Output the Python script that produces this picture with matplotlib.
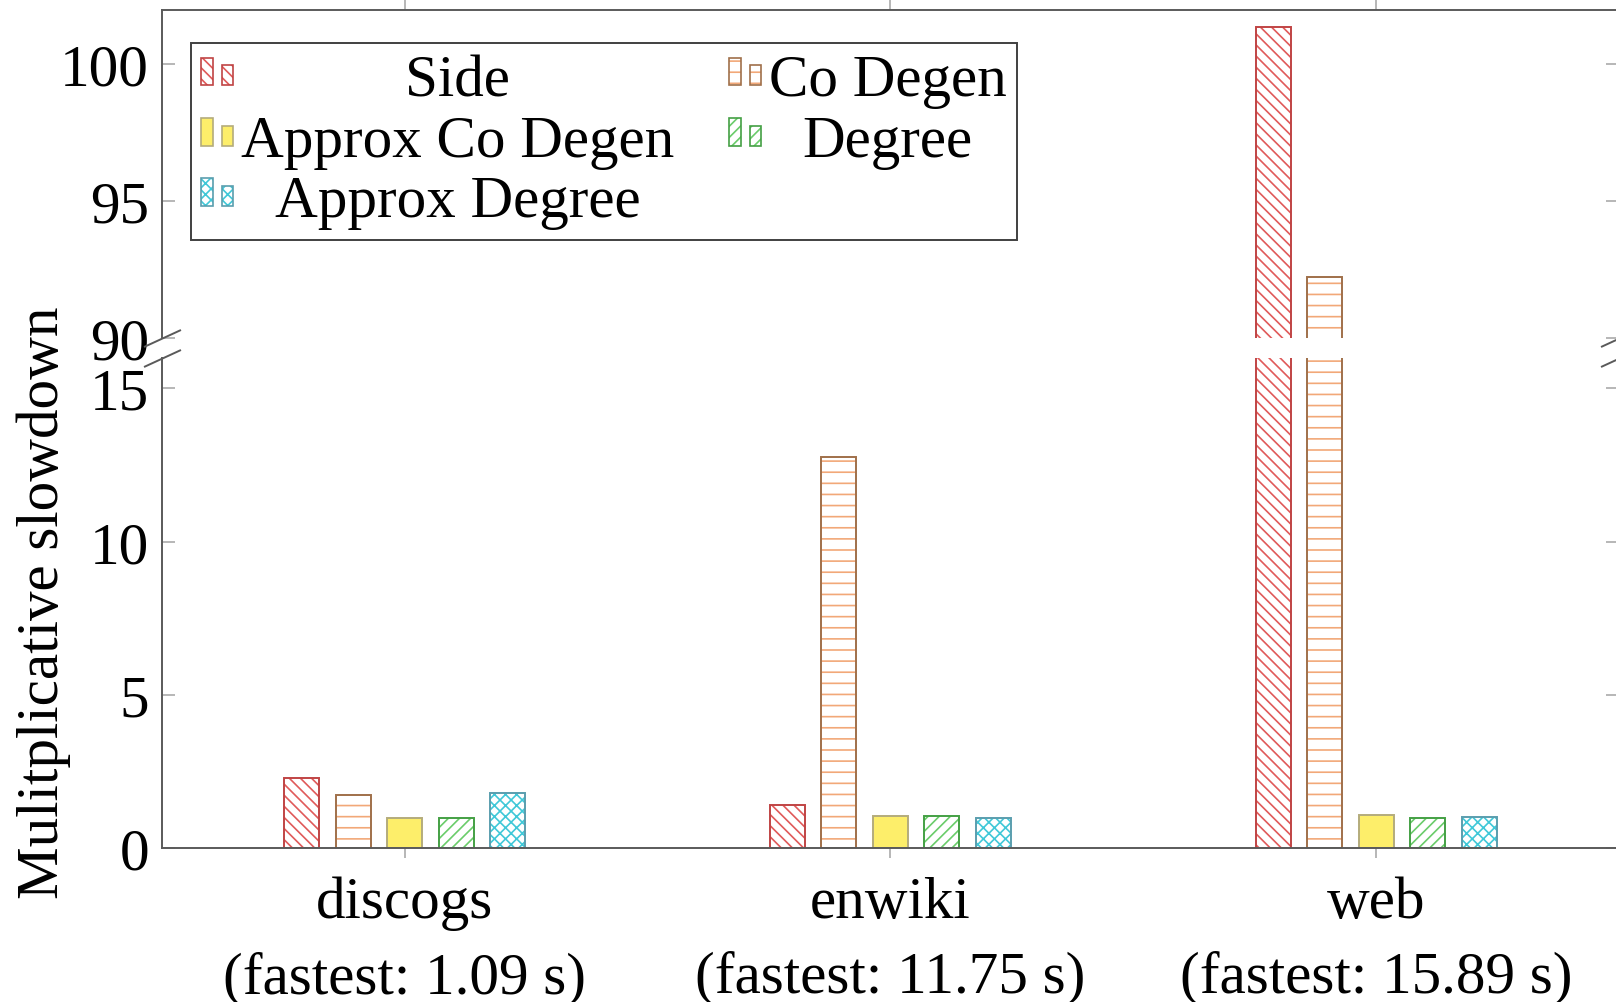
import matplotlib
matplotlib.use('Agg')
import matplotlib.pyplot as plt
import numpy as np
from matplotlib.patches import Rectangle
from matplotlib.legend_handler import HandlerBase

FS = 21.3
plt.rcParams['font.family'] = ['Liberation Serif', 'DejaVu Serif']
plt.rcParams['font.size'] = FS
plt.rcParams['hatch.linewidth'] = 0.6

# data (slowdown relative to fastest method per dataset)
datasets = ['discogs', 'enwiki', 'web']
fastest_s = [1.09, 11.75, 15.89]
side = [2.29, 1.42, 101.36]
co_degen = [1.74, 12.75, 92.22]
approx_co_degen = [1.00, 1.07, 1.09]
degree = [1.00, 1.05, 1.00]
approx_degree = [1.81, 0.99, 1.01]

names = ['Side', 'Co Degen', 'Approx Co Degen', 'Degree', 'Approx Degree']
values = [side, co_degen, approx_co_degen, degree, approx_degree]

# styles: fill, hatch colour, outline colour, hatch
fills = ['white', 'white', '#fdee6a', 'white', 'white']
hatch_cols = ['#e05a5a', '#f2a878', '#fdee6a', '#6acc6a', '#40c8d8']
edge_cols = ['#c04444', '#a0704a', '#b4ac7c', '#44a044', '#5a9eae']
hatches = ['\\' * 6, '-' * 3, None, '/' * 6, 'x' * 6]

spine_col = '#5a5a5a'
tick_col = '#aaaaaa'

fig = plt.figure(figsize=(8.08, 5.015), dpi=200)
ax_top = fig.add_axes([0.1001, 0.662, 0.9017, 0.3275])
ax_bot = fig.add_axes([0.1001, 0.1532, 0.9017, 0.4892])

x = np.arange(len(datasets))
width = 0.072
step = 0.106

for ax in (ax_top, ax_bot):
    for i in range(len(names)):
        off = (i - 2) * step
        ax.bar(x + off, values[i], width, color=fills[i], edgecolor=hatch_cols[i],
               linewidth=0, hatch=hatches[i])
        ax.bar(x + off, values[i], width, fill=False, edgecolor=edge_cols[i], linewidth=0.7)
    ax.set_xlim(-0.5, 2.5)
    ax.set_xticks(x)
    for s in ax.spines.values():
        s.set_color(spine_col)
        s.set_linewidth(0.7)
    ax.tick_params(axis='y', which='both', direction='in', left=True, right=True,
                   length=4.7, width=0.6, color=tick_col, pad=4.6, labelsize=FS)
    ax.tick_params(axis='x', direction='out', length=3.6, width=0.6, color=tick_col)

ax_top.set_ylim(90, 102)
ax_top.set_yticks([90, 95, 100])
ax_top.spines['bottom'].set_visible(False)
ax_top.tick_params(axis='x', bottom=False, top=True, labelbottom=False)

ax_bot.set_ylim(0, 16)
ax_bot.set_yticks([0, 5, 10, 15])
ax_bot.spines['top'].set_visible(False)
ax_bot.set_xticklabels([f'{d}\n(fastest: {t:.2f} s)' for d, t in zip(datasets, fastest_s)],
                       linespacing=1.48)
ax_bot.tick_params(axis='x', pad=6.3, labelsize=FS)

# break marks
kw = dict(marker=[(-1, -0.46), (1, 0.46)], markersize=13.3, linestyle='none',
          color=spine_col, mec=spine_col, mew=0.7, clip_on=False)
ax_top.plot([0, 1], [0, 0], transform=ax_top.transAxes, **kw)
ax_bot.plot([0, 1], [1, 1], transform=ax_bot.transAxes, **kw)

fig.text(44 / 1616, 0.3988, 'Mulitplicative slowdown', rotation=90, ha='center', va='center')


class TwoBars(HandlerBase):
    def __init__(self, fill, hcol, ecol, hatch):
        super().__init__()
        self.style = (fill, hcol, ecol, hatch)

    def create_artists(self, legend, orig_handle, xdescent, ydescent, width, height, fontsize, trans):
        fill, hcol, ecol, hatch = self.style
        arts = []
        for x0, h in ((0, 10.0), (7.4, 7.2)):
            xy = (-xdescent + x0, -ydescent + 3.6)
            r1 = Rectangle(xy, 4.1, h, facecolor=fill, edgecolor=hcol, linewidth=0, hatch=hatch)
            r2 = Rectangle(xy, 4.1, h, fill=False, edgecolor=ecol, linewidth=0.6)
            r1.set_transform(trans)
            r2.set_transform(trans)
            arts += [r1, r2]
        return arts


# pgfplots fills the legend row by row, matplotlib column by column
order = [0, 2, 4, 1, 3]
proxies = [Rectangle((0, 0), 1, 1) for _ in names]
hmap = {proxies[i]: TwoBars(fills[i], hatch_cols[i], edge_cols[i], hatches[i]) for i in range(len(names))}
leg = ax_top.legend([proxies[i] for i in order], [names[i] for i in order], handler_map=hmap,
                    ncol=2, loc='upper left', bbox_to_anchor=(0.0199, 0.897), borderaxespad=0,
                    borderpad=0.18, handlelength=0.54, handleheight=0.7, handletextpad=0.13,
                    columnspacing=0.93, labelspacing=0.1, fancybox=False, framealpha=1,
                    edgecolor='#404040', fontsize=FS)
leg.get_frame().set_linewidth(0.7)

# centre the legend labels inside their column, like pgfplots
fig.canvas.draw()
texts = leg.get_texts()
for col in (texts[:3], texts[3:]):
    widths = [t.get_window_extent().width for t in col]
    wmax = max(widths)
    for t, w in zip(col, widths):
        t.set_x((wmax - w) / 2)

fig.savefig('out.png', dpi=200)
